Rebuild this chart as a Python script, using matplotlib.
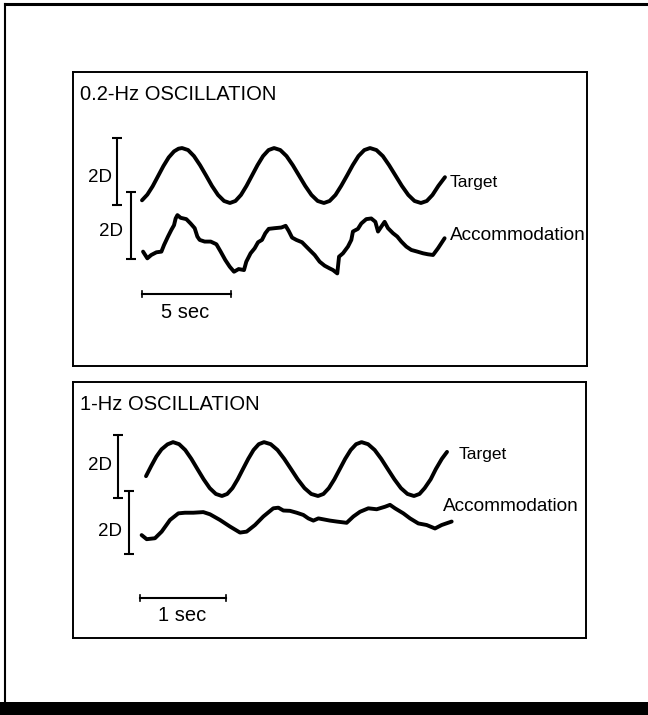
import matplotlib.pyplot as plt
from matplotlib.lines import Line2D
from matplotlib.patches import Rectangle

plt.rcParams['font.family'] = ['Liberation Sans', 'DejaVu Sans']

# ---- 0.2 Hz panel (time in s, response in D) ----
slow_target_t = [0.0, 0.3, 0.6, 0.9, 1.2, 1.5, 1.8, 2.05, 2.25,
                 2.59, 2.92, 3.26, 3.60, 3.93, 4.27, 4.61, 4.94,
                 5.25, 5.56, 5.87, 6.18, 6.49, 6.80, 7.11, 7.42,
                 7.77, 8.12, 8.47, 8.82, 9.17, 9.52, 9.87, 10.22,
                 10.54, 10.87, 11.19, 11.52, 11.84, 12.16, 12.49, 12.81,
                 13.17, 13.53, 13.88, 14.24, 14.60, 14.96, 15.31, 15.67,
                 16.0, 16.32, 16.65, 17.02]
slow_target_d = [0.08, 0.25, 0.5, 0.8, 1.1, 1.36, 1.54, 1.62, 1.64,
                 1.58, 1.40, 1.13, 0.82, 0.51, 0.24, 0.06, 0.0,
                 0.06, 0.24, 0.51, 0.82, 1.13, 1.40, 1.58, 1.64,
                 1.58, 1.40, 1.13, 0.82, 0.51, 0.24, 0.06, 0.0,
                 0.06, 0.24, 0.51, 0.82, 1.13, 1.40, 1.58, 1.64,
                 1.58, 1.40, 1.13, 0.82, 0.51, 0.24, 0.06, 0.0,
                 0.06, 0.24, 0.51, 0.77]

slow_acc_t = [0.06, 0.30, 0.52, 0.81, 1.09, 1.24, 1.46, 1.65, 1.80, 1.89,
              1.99, 2.17, 2.49, 2.73, 2.96, 3.11, 3.24, 3.52, 3.86, 4.18,
              4.42, 4.68, 4.93, 5.17, 5.43, 5.73, 5.86, 6.10, 6.33, 6.52,
              6.74, 6.93, 7.12, 7.45, 7.83, 8.07, 8.24, 8.43, 8.67, 8.99,
              9.23, 9.51, 9.70, 9.98, 10.26, 10.54, 10.73, 10.97, 11.07, 11.29,
              11.57, 11.76, 11.85, 12.13, 12.32, 12.60, 12.88, 13.11, 13.26, 13.45,
              13.63, 13.82, 14.10, 14.34, 14.57, 14.85, 15.13, 15.47, 15.79, 16.07,
              16.35, 16.63, 17.0]
slow_acc_d = [0.22, 0.02, 0.12, 0.20, 0.22, 0.42, 0.67, 0.87, 1.01, 1.21,
              1.31, 1.23, 1.19, 1.06, 0.92, 0.67, 0.57, 0.52, 0.52, 0.44,
              0.22, -0.03, -0.23, -0.38, -0.30, -0.33, -0.08, 0.17, 0.32, 0.50,
              0.57, 0.77, 0.90, 0.92, 0.94, 0.99, 0.84, 0.64, 0.57, 0.50,
              0.37, 0.22, 0.12, -0.08, -0.20, -0.28, -0.33, -0.43, 0.07, 0.17,
              0.37, 0.57, 0.82, 0.90, 1.06, 1.19, 1.21, 1.11, 0.82, 0.97,
              1.11, 0.92, 0.77, 0.67, 0.52, 0.37, 0.27, 0.22, 0.17, 0.14,
              0.12, 0.32, 0.62]

# ---- 1 Hz panel ----
fast_target_t = [0.07, 0.13, 0.19, 0.25, 0.32, 0.384,
                 0.455, 0.526, 0.597, 0.668, 0.740, 0.811, 0.882, 0.953,
                 1.014, 1.075, 1.136, 1.197, 1.259, 1.320, 1.381, 1.442,
                 1.520, 1.599, 1.677, 1.756, 1.834, 1.913, 1.991, 2.070,
                 2.133, 2.196, 2.260, 2.323, 2.386, 2.450, 2.513, 2.576,
                 2.652, 2.729, 2.805, 2.881, 2.958, 3.034, 3.110, 3.186,
                 3.25, 3.31, 3.38, 3.44, 3.51, 3.57]
fast_target_d = [0.63, 0.95, 1.25, 1.48, 1.64, 1.71,
                 1.645, 1.46, 1.18, 0.855, 0.53, 0.25, 0.065, 0.0,
                 0.065, 0.25, 0.53, 0.855, 1.18, 1.46, 1.645, 1.71,
                 1.645, 1.46, 1.18, 0.855, 0.53, 0.25, 0.065, 0.0,
                 0.065, 0.25, 0.53, 0.855, 1.18, 1.46, 1.645, 1.71,
                 1.645, 1.46, 1.18, 0.855, 0.53, 0.25, 0.065, 0.0,
                 0.065, 0.25, 0.53, 0.855, 1.18, 1.40]

fast_acc_t = [0.019, 0.078, 0.174, 0.252, 0.349, 0.446, 0.523, 0.620, 0.736, 0.814,
              0.930, 1.047, 1.163, 1.240, 1.337, 1.434, 1.550, 1.609, 1.667, 1.744,
              1.822, 1.899, 1.957, 2.016, 2.074, 2.132, 2.209, 2.287, 2.403, 2.481,
              2.558, 2.655, 2.752, 2.849, 2.907, 2.965, 3.062, 3.140, 3.236, 3.333,
              3.430, 3.508, 3.624]
fast_acc_d = [0.60, 0.47, 0.50, 0.71, 1.08, 1.29, 1.31, 1.31, 1.33, 1.26,
              1.08, 0.87, 0.68, 0.71, 0.92, 1.19, 1.45, 1.47, 1.38, 1.37,
              1.31, 1.24, 1.13, 1.06, 1.13, 1.10, 1.06, 1.03, 0.99, 1.19,
              1.34, 1.45, 1.42, 1.50, 1.56, 1.45, 1.29, 1.13, 0.97, 0.92,
              0.81, 0.92, 1.03]

W, H = 648, 715
fig = plt.figure(figsize=(W / 100, H / 100), dpi=100)

# outer frame bits of the scanned page
fig.add_artist(Line2D([5 / W, 1], [1 - 4 / H, 1 - 4 / H], color='black', lw=2.2))
fig.add_artist(Line2D([5 / W, 5 / W], [1 - 4 / H, 13 / H], color='black', lw=1.5))
fig.add_artist(Rectangle((0, 0), 1, 13 / H, color='black', lw=0))

LW = 2.8


def ibar(ax, x, y0, y1, cap):
    ax.plot([x, x], [y0, y1], color='black', lw=1.5, solid_capstyle='butt')
    for y in (y0, y1):
        ax.plot([x - cap, x + cap], [y, y], color='black', lw=1.5, solid_capstyle='butt')


def panel(rect, xlim, ylim, title, title_y, tt, td, at, ad, t_off, a_off, bars, scale, labels):
    ax = fig.add_axes(rect)
    ax.set_xlim(*xlim)
    ax.set_ylim(*ylim)
    ax.set_xticks([])
    ax.set_yticks([])
    for s in ax.spines.values():
        s.set_linewidth(1.4)
    ax.text(0.014, title_y, title, transform=ax.transAxes,
            fontsize=14.5, va='center', ha='left')
    ax.plot(tt, [d + t_off for d in td], color='black', lw=LW,
            solid_joinstyle='round', solid_capstyle='round')
    ax.plot(at, [d + a_off for d in ad], color='black', lw=LW,
            solid_joinstyle='round', solid_capstyle='round')
    (bx1, lx1, ly1), (bx2, lx2, ly2), cap = bars
    ibar(ax, bx1, t_off - 0.06, t_off + 1.94, cap)
    ibar(ax, bx2, a_off, a_off + 2.0, cap)
    ax.text(lx1, ly1, '2D', fontsize=13.5, ha='right', va='center')
    ax.text(lx2, ly2, '2D', fontsize=13.5, ha='right', va='center')
    sy, stext, sx, sty, tick = scale
    ax.plot([0, stext], [sy, sy], color='black', lw=1.5)
    for x in (0, stext):
        ax.plot([x, x], [sy - tick, sy + tick], color='black', lw=1.2)
    ax.text(sx, sty, labels[2], fontsize=14.5, ha='center', va='center')
    (tx, ty), (ax_, ay) = labels[0], labels[1]
    ax.text(tx, ty, 'Target', fontsize=12.5, ha='left', va='center')
    ax.text(ax_, ay, 'Accommodation', fontsize=13.7, ha='left', va='center')
    return ax


panel([73 / W, 1 - 366 / H, 514 / W, 294 / H], (-3.876, 25.0), (0, 8.776),
      '0.2-Hz OSCILLATION', 0.925,
      slow_target_t, slow_target_d, slow_acc_t, slow_acc_d,
      4.866, 3.194,
      ((-1.40, -1.69, 5.64), (-0.62, -1.07, 4.0), 0.28),
      (2.15, 5, 2.42, 1.61, 0.09),
      ((17.30, 5.49), (17.30, 3.91), '5 sec'))

panel([73 / W, 1 - 638 / H, 513 / W, 256 / H], (-0.779, 5.186), (0, 8.127),
      '1-Hz OSCILLATION', 0.912,
      fast_target_t, fast_target_d, fast_acc_t, fast_acc_d,
      4.508, 2.667,
      ((-0.256, -0.326, 5.49), (-0.128, -0.21, 3.37), 0.058),
      (1.27, 1, 0.49, 0.73, 0.095),
      ((3.70, 5.81), (3.52, 4.19), '1 sec'))

fig.savefig('out.png', dpi=100)
